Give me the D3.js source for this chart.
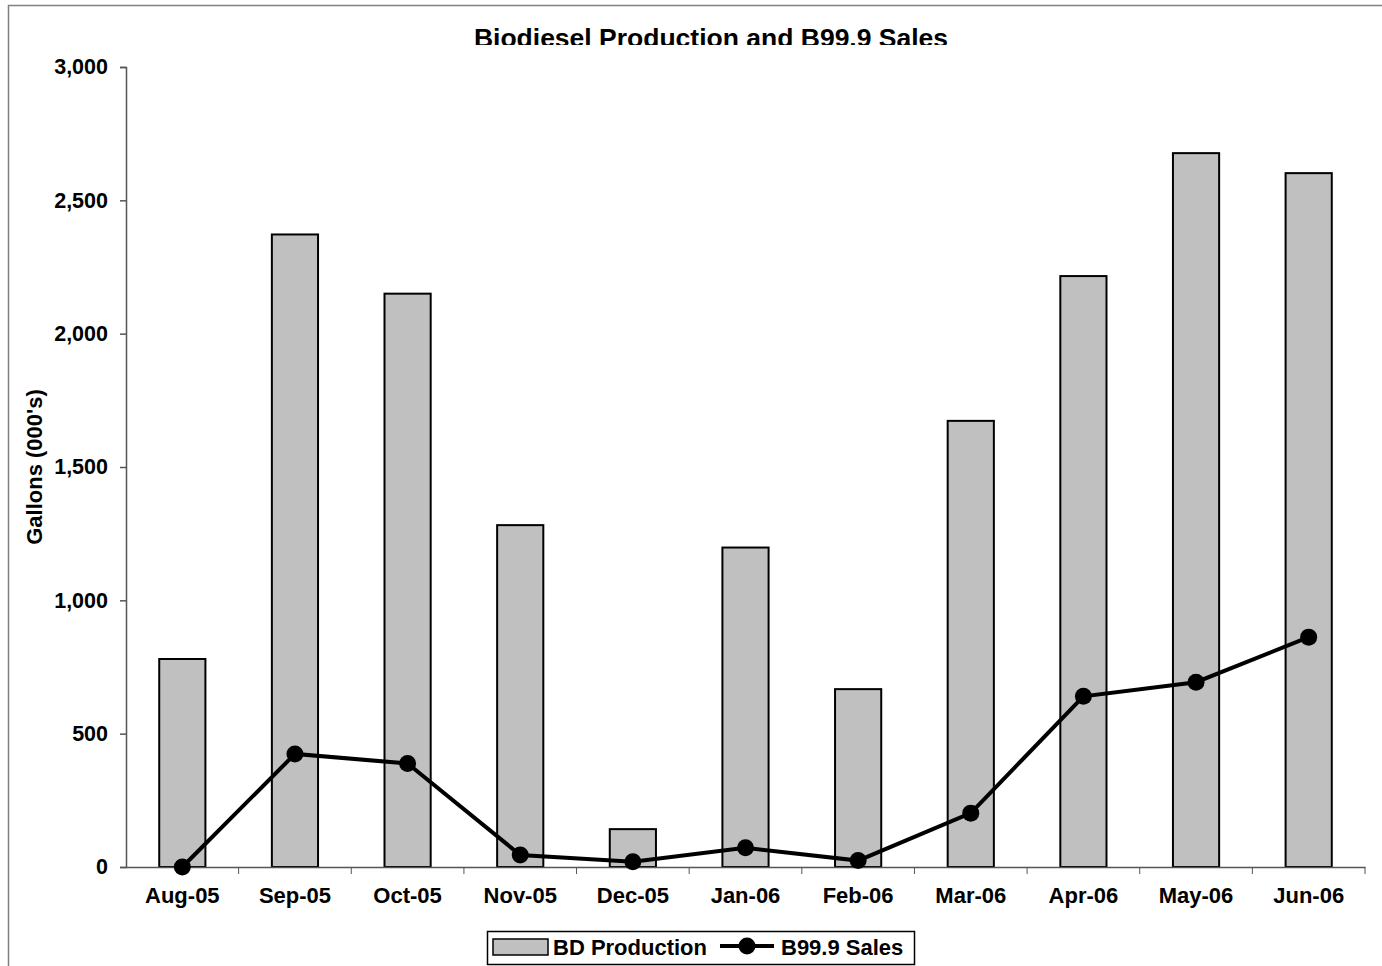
<!DOCTYPE html>
<html>
<head>
<meta charset="utf-8">
<script src="https://cdn.jsdelivr.net/npm/d3@7"></script>
<style>
  body { margin: 0; background: #fff; }
  text { font-family: "Liberation Sans", Arial, sans-serif; font-weight: bold; fill: #000; }
</style>
</head>
<body>
<svg id="chart"></svg>
<script>
// Chart data
var months = ['Aug-05', 'Sep-05', 'Oct-05', 'Nov-05', 'Dec-05', 'Jan-06', 'Feb-06', 'Mar-06', 'Apr-06', 'May-06', 'Jun-06'];
var bdProduction = [780, 2372, 2150, 1282, 142, 1198, 667, 1673, 2216, 2677, 2602];
var b999Sales = [0, 424, 388, 45, 20, 72, 24, 202, 640, 693, 862];
var yTicks = [0, 500, 1000, 1500, 2000, 2500, 3000];

var width = 1382, height = 966;
var margin = { top: 67, right: 17, bottom: 99, left: 126 };

var svg = d3.select('#chart')
    .attr('width', width)
    .attr('height', height);

// Outer chart border (open at right and bottom, like the source)
svg.append('rect')
    .attr('x', 8.5).attr('y', 5.5)
    .attr('width', width).attr('height', height)
    .attr('fill', 'none')
    .attr('stroke', '#808080')
    .attr('stroke-width', 1.5);

var x = d3.scaleBand()
    .domain(months)
    .range([margin.left, width - margin.right]);

var y = d3.scaleLinear()
    .domain([0, 3000])
    .range([height - margin.bottom, margin.top]);

// Title, clipped at the bottom as in the source
svg.append('clipPath').attr('id', 'titleClip')
    .append('rect').attr('x', 0).attr('y', 0).attr('width', width).attr('height', 45);

svg.append('text')
    .attr('x', 711).attr('y', 47)
    .attr('text-anchor', 'middle')
    .attr('clip-path', 'url(#titleClip)')
    .style('font-size', '26.5px')
    .text('Biodiesel Production and B99.9 Sales');

// Bars
var barW = x.bandwidth() * 0.41;
svg.append('g').selectAll('rect')
    .data(bdProduction)
    .enter()
    .append('rect')
    .attr('x', function(d, i) { return x(months[i]) + (x.bandwidth() - barW) / 2; })
    .attr('y', function(d) { return y(d); })
    .attr('width', barW)
    .attr('height', function(d) { return y(0) - y(d); })
    .attr('fill', '#c0c0c0')
    .attr('stroke', '#000')
    .attr('stroke-width', 2);

// Y axis
var yAxis = svg.append('g')
    .attr('transform', 'translate(' + margin.left + ',0)')
    .call(d3.axisLeft(y).tickValues(yTicks).tickSize(6).tickPadding(12).tickFormat(d3.format(',')));
yAxis.selectAll('text').style('font-size', '21.5px');

// X axis with ticks on category boundaries
var xAxis = svg.append('g')
    .attr('transform', 'translate(0,' + y(0) + ')')
    .call(d3.axisBottom(x).tickSize(0).tickPadding(20));
xAxis.selectAll('text').style('font-size', '22px');
xAxis.selectAll('.boundary')
    .data(months.slice(1).concat(['end']))
    .enter()
    .append('line')
    .attr('x1', function(d, i) { return x(months[i]) + x.bandwidth(); })
    .attr('x2', function(d, i) { return x(months[i]) + x.bandwidth(); })
    .attr('y1', 0).attr('y2', 7)
    .attr('stroke', '#555');

svg.selectAll('.domain, .tick line').attr('stroke', '#555').attr('stroke-width', 1.5);

// Y axis label
svg.append('text')
    .attr('transform', 'translate(42,467) rotate(-90)')
    .attr('text-anchor', 'middle')
    .style('font-size', '22px')
    .text("Gallons (000's)");

// Sales line
var line = d3.line()
    .x(function(d, i) { return x(months[i]) + x.bandwidth() / 2; })
    .y(function(d) { return y(d); });

svg.append('path')
    .datum(b999Sales)
    .attr('d', line)
    .attr('fill', 'none')
    .attr('stroke', '#000')
    .attr('stroke-width', 4);

svg.append('g').selectAll('circle')
    .data(b999Sales)
    .enter()
    .append('circle')
    .attr('cx', function(d, i) { return x(months[i]) + x.bandwidth() / 2; })
    .attr('cy', function(d) { return y(d); })
    .attr('r', 8.5)
    .attr('fill', '#000');

// Legend
var legend = svg.append('g');
legend.append('rect')
    .attr('x', 487.5).attr('y', 931.5)
    .attr('width', 427).attr('height', 33)
    .attr('fill', '#fff')
    .attr('stroke', '#000')
    .attr('stroke-width', 1.5);
legend.append('rect')
    .attr('x', 493).attr('y', 939)
    .attr('width', 55).attr('height', 16)
    .attr('fill', '#c0c0c0')
    .attr('stroke', '#000')
    .attr('stroke-width', 1.5);
legend.append('text')
    .attr('x', 553).attr('y', 955)
    .style('font-size', '22px')
    .text('BD Production');
legend.append('line')
    .attr('x1', 720).attr('x2', 774)
    .attr('y1', 946).attr('y2', 946)
    .attr('stroke', '#000').attr('stroke-width', 4);
legend.append('circle')
    .attr('cx', 747).attr('cy', 946).attr('r', 8.5)
    .attr('fill', '#000');
legend.append('text')
    .attr('x', 781).attr('y', 955)
    .style('font-size', '22px')
    .text('B99.9 Sales');
</script>
</body>
</html>
